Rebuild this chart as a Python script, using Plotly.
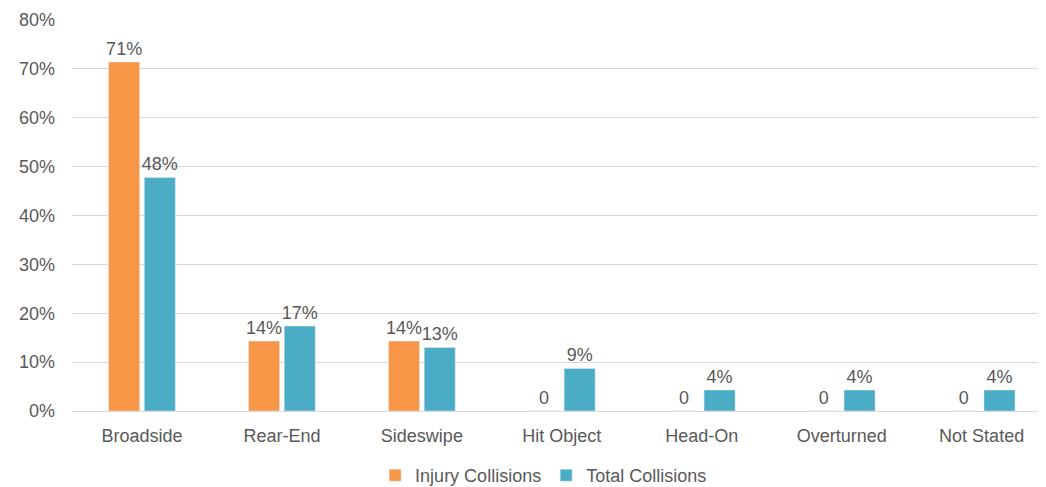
import plotly.graph_objects as go

categories = ["Broadside", "Rear-End", "Sideswipe", "Hit Object", "Head-On", "Overturned", "Not Stated"]
injury = [0.714, 0.143, 0.143, 0, 0, 0, 0]
total = [0.478, 0.174, 0.130, 0.087, 0.043, 0.043, 0.043]
injury_labels = ["71%", "14%", "14%", "0", "0", "0", "0"]
total_labels = ["48%", "17%", "13%", "9%", "4%", "4%", "4%"]
y_ticks = [0, 0.1, 0.2, 0.3, 0.4, 0.5, 0.6, 0.7, 0.8]

ORANGE = "#F79646"
BLUE = "#4BACC6"
GREY = "#595959"
FONT = "Liberation Sans, Arial, sans-serif"

fig = go.Figure()
for name, vals, labels, color in [
    ("Injury Collisions", injury, injury_labels, ORANGE),
    ("Total Collisions", total, total_labels, BLUE),
]:
    fig.add_trace(go.Bar(
        name=name, x=categories, y=vals,
        marker_color=color, text=labels, textposition="outside",
        textfont=dict(size=18, color=GREY), cliponaxis=False,
        constraintext="none",
    ))

# page body has an 8px default margin, so the figure is a bit smaller
fig.update_layout(
    width=1038, height=479,
    margin=dict(l=64, r=0, t=12, b=76, autoexpand=False),
    paper_bgcolor="white", plot_bgcolor="white",
    font=dict(family=FONT, size=18, color=GREY),
    barmode="group", bargap=0.49, bargroupgap=0.13,
    showlegend=True,
    legend=dict(
        orientation="h", xref="container", x=0.516, xanchor="center",
        yref="container", y=0.024, yanchor="middle",
        font=dict(size=18, color=GREY), itemwidth=30,
    ),
)
fig.update_xaxes(
    range=[-0.5, 6.46], showgrid=False, ticks="", showline=True,
    linecolor="#D9D9D9", tickfont=dict(size=18, color=GREY),
    automargin=False, ticklabelstandoff=8,
)
fig.update_yaxes(
    range=[0, 0.8], tickvals=y_ticks, tickformat=".0%",
    showgrid=True, gridcolor="#D9D9D9", zeroline=False, showline=False,
    tickfont=dict(size=18, color=GREY),
    automargin=False, ticklabelstandoff=16,
)

fig.write_html("out.html")
